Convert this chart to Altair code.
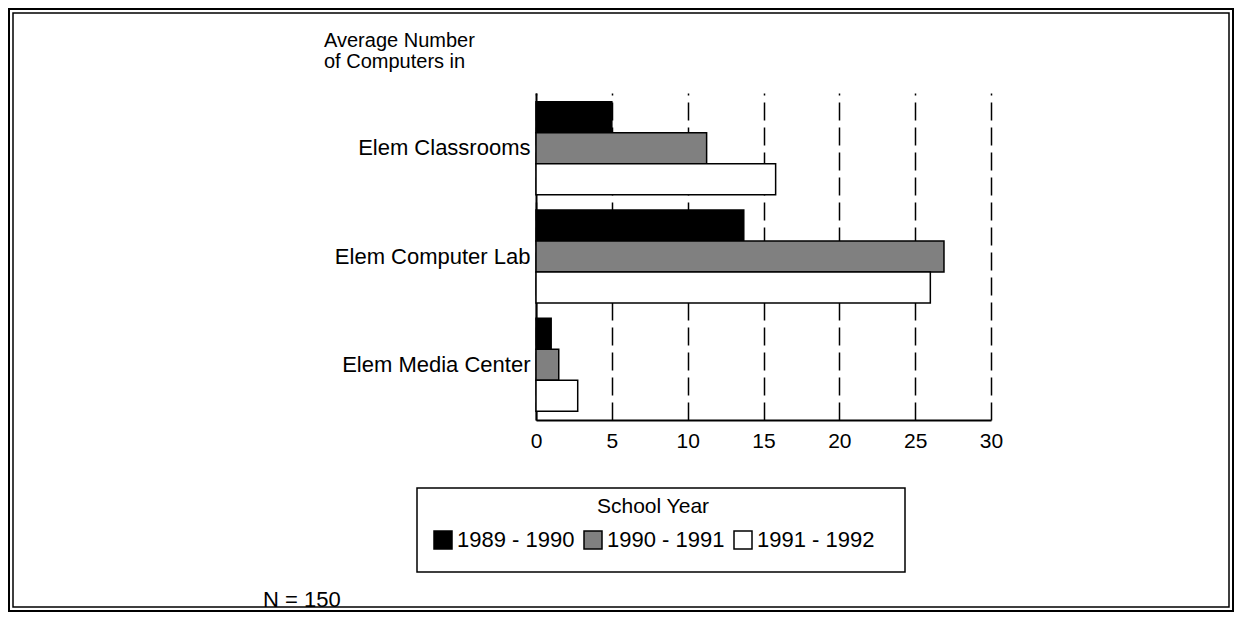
import altair as alt
import pandas as pd

categories = ["Elem Classrooms", "Elem Computer Lab", "Elem Media Center"]
years = ["1989 - 1990", "1990 - 1991", "1991 - 1992"]
v_1989 = [5.0, 13.7, 1.0]
v_1990 = [11.25, 26.9, 1.5]
v_1991 = [15.8, 26.0, 2.75]
x_ticks = [0, 5, 10, 15, 20, 25, 30]
title_lines = ["Average Number", "of Computers in"]
legend_title = "School Year"
note = "N = 150"
year_fills = ["#000000", "#808080", "#ffffff"]

rows = []
for yr, vals in zip(years, [v_1989, v_1990, v_1991]):
    for c, v in zip(categories, vals):
        rows.append({"category": c, "year": yr, "value": v})
df = pd.DataFrame(rows)

FONT = "Liberation Sans"
W, H = 455, 327
PL, PT = 528, 85
TOTAL_W, TOTAL_H = 1227, 605

one = alt.Data(values=[{"k": 1}])

bars = alt.Chart(df).mark_bar(stroke="black", strokeWidth=1.5).encode(
    x=alt.X(
        "value:Q",
        scale=alt.Scale(domain=[0, 30], nice=False, zero=True),
        axis=alt.Axis(
            values=x_ticks, title=None, grid=True, gridDash=[18, 7],
            gridColor="black", gridWidth=1.5, gridOpacity=1, ticks=False,
            labelPadding=10, labelFontSize=21, labelFont=FONT,
            labelColor="black", domainColor="black", domainWidth=2,
            labelFlush=False,
        ),
    ),
    y=alt.Y(
        "category:N", sort=categories,
        scale=alt.Scale(paddingInner=0.14, paddingOuter=0.08),
        axis=alt.Axis(
            title=None, ticks=False, grid=False, labelPadding=6,
            labelFontSize=22, labelFont=FONT, labelColor="black",
            domainColor="black", domainWidth=2, labelLimit=400,
        ),
    ),
    yOffset=alt.YOffset("year:N", sort=years,
                        scale=alt.Scale(paddingInner=0, paddingOuter=0)),
    fill=alt.Fill(
        "year:N", sort=years,
        scale=alt.Scale(domain=years, range=year_fills),
        legend=alt.Legend(
            orient="none", legendX=-104, legendY=403, direction="horizontal",
            title=legend_title, titleFontSize=21, titleFont=FONT,
            titleFontWeight="normal", titleColor="black", titleAnchor="middle",
            titlePadding=12, labelFontSize=22, labelFont=FONT,
            labelColor="black", symbolType="square", symbolSize=324,
            symbolStrokeColor="black", symbolStrokeWidth=1.5, labelOffset=3,
            columnPadding=6, padding=0,
        ),
    ),
)

frame_outer = alt.Chart(one).mark_rect(fillOpacity=0, stroke="black", strokeWidth=2).encode(
    x=alt.value(-527), x2=alt.value(TOTAL_W - PL - 2),
    y=alt.value(-84), y2=alt.value(TOTAL_H - PT - 2),
)
frame_inner = alt.Chart(one).mark_rect(fillOpacity=0, stroke="black", strokeWidth=1.5).encode(
    x=alt.value(-523), x2=alt.value(TOTAL_W - PL - 6),
    y=alt.value(-80), y2=alt.value(TOTAL_H - PT - 6),
)

legend_box = alt.Chart(one).mark_rect(fillOpacity=0, stroke="black", strokeWidth=1.5).encode(
    x=alt.value(-119), x2=alt.value(369), y=alt.value(395), y2=alt.value(479),
)

def label(text, x, y, size=22):
    return alt.Chart(one).mark_text(
        font=FONT, fontSize=size, color="black", align="left", baseline="alphabetic"
    ).encode(x=alt.value(x), y=alt.value(y), text=alt.value(text))

t1 = label(title_lines[0], -212, -46, 20)
t2 = label(title_lines[1], -212, -25, 20)
t3 = label(note, -273, 514)

chart = alt.layer(frame_outer, frame_inner, bars, legend_box, t1, t2, t3).properties(
    width=W, height=H,
    autosize=alt.AutoSizeParams(type="none"),
    padding={"left": PL, "top": PT, "right": TOTAL_W - PL - W, "bottom": TOTAL_H - PT - H},
).configure_view(stroke=None)

chart.save("out.html", embed_options={"renderer": "svg", "actions": False})
